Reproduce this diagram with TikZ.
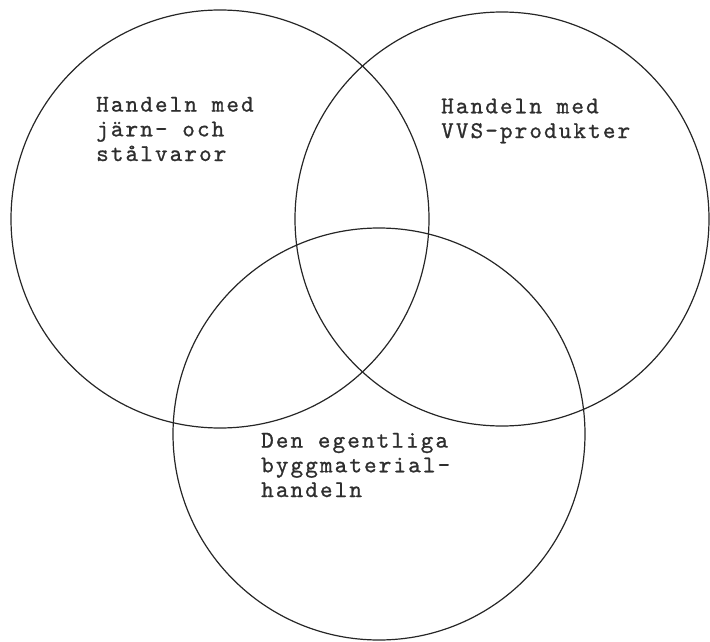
\documentclass[tikz,border=0pt]{standalone}
\usepackage{fontspec}
\newfontfamily\typew{lmmono10-regular.otf}[LetterSpace=8.75,FakeBold=0.9]
\begin{document}
\begin{tikzpicture}[x=1pt,y=-1pt,
  venn/.style={draw=black!85, line width=1.2pt, circle, inner sep=0pt},
  lbl/.style={anchor=base west, inner sep=0pt, align=left, text=black!82,
    font=\typew\fontsize{24}{24.7}\selectfont}]
\useasboundingbox (0,0) rectangle (710,642);
\node[venn, minimum size=418pt] (L) at (220,219) {};
\node[venn, minimum size=414pt] (R) at (502,219) {};
\node[venn, minimum size=412pt] (B) at (379,434) {};
\node[lbl] (tl) at (96,161) {Handeln med\\järn- och\\stålvaror};
\node[lbl] (tr) at (441,138) {Handeln med\\VVS-produkter};
\node[lbl] (tb) at (261,497) {Den egentliga\\byggmaterial-\\handeln};
\end{tikzpicture}
\end{document}
